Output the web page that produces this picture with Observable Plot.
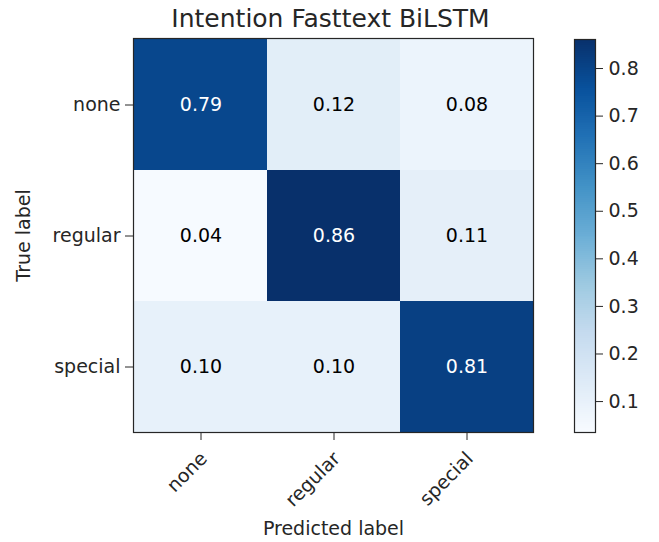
<!DOCTYPE html>
<html>
<head>
<meta charset="utf-8">
<script src="https://cdn.jsdelivr.net/npm/d3@7"></script>
<script src="https://cdn.jsdelivr.net/npm/@observablehq/plot@0.6"></script>
<style>
  html, body { margin: 0; padding: 0; background: #fff; }
  #wrap { position: relative; width: 659px; height: 542px; font-family: "DejaVu Sans", sans-serif; }
  #wrap svg { position: absolute; top: 0; }
</style>
</head>
<body>
<div id="wrap"></div>
<script>
// ---- data ----
const title = "Intention Fasttext BiLSTM";
const classes = ["none", "regular", "special"];          // predicted (x) and true (y) labels
const rowNone    = [0.79, 0.12, 0.08];
const rowRegular = [0.04, 0.86, 0.11];
const rowSpecial = [0.10, 0.10, 0.81];
const colorDomain = [0.035, 0.861];                      // colorbar extent (min, max of matrix)
const colorbarTicks = [0.1, 0.2, 0.3, 0.4, 0.5, 0.6, 0.7, 0.8];
const xLabel = "Predicted label";
const yLabel = "True label";

const rows = [rowNone, rowRegular, rowSpecial];
const cells = [];
rows.forEach((row, i) => row.forEach((v, j) => cells.push({truth: classes[i], pred: classes[j], value: v})));
const maxVal = d3.max(cells, d => d.value);
const thresh = maxVal / 2;

const blues = ["#f7fbff","#deebf7","#c6dbef","#9ecae1","#6baed6","#4292c6","#2171b5","#08519c","#08306b"];
const colorOpts = {type: "linear", domain: colorDomain, interpolate: d3.piecewise(d3.interpolateRgb, blues)};

const ink = "#262626";
const wrap = document.getElementById("wrap");

const main = Plot.plot({
  width: 659,
  height: 542,
  marginLeft: 133,
  marginRight: 126,
  marginTop: 38,
  marginBottom: 110,
  style: {fontFamily: "DejaVu Sans, sans-serif", color: ink, background: "transparent"},
  x: {domain: classes, padding: 0},
  y: {domain: classes, padding: 0},
  color: colorOpts,
  marks: [
    Plot.cell(cells, {x: "pred", y: "truth", fill: "value", inset: 0}),
    Plot.text(cells, {x: "pred", y: "truth", text: d => d.value.toFixed(2), fill: d => d.value > thresh ? "white" : "black", fontSize: 19}),
    Plot.frame({stroke: ink, strokeWidth: 1.2}),
    Plot.axisY({tickSize: 8, tickPadding: 5, fontSize: 19, label: yLabel, labelAnchor: "center", labelArrow: "none", labelOffset: 117, stroke: ink}),
    Plot.axisX({tickSize: 8, tickFormat: () => "", label: null, stroke: ink}),
    Plot.axisX({tickSize: 0, tickPadding: 12, fontSize: 19, tickRotate: -45, dx: 3, dy: 11, label: null}),
    Plot.axisX({ticks: [], tickSize: 0, label: xLabel, labelAnchor: "center", labelArrow: "none", labelOffset: 102, fontSize: 19}),
    Plot.text([title], {frameAnchor: "top", dx: -3, dy: -12, lineAnchor: "bottom", fontSize: 25, fill: ink})
  ]
});
main.style.left = "0px";
wrap.appendChild(main);

// colorbar
const steps = d3.range(200);
const span = colorDomain[1] - colorDomain[0];
const slices = steps.map(i => ({
  y1: colorDomain[0] + span * i / steps.length,
  y2: colorDomain[0] + span * (i + 1) / steps.length
}));
const bar = Plot.plot({
  width: 86,
  height: 542,
  marginLeft: 1,
  marginRight: 64,
  marginTop: 39,
  marginBottom: 110,
  style: {fontFamily: "DejaVu Sans, sans-serif", color: ink, background: "transparent"},
  x: {domain: [0, 1], axis: null},
  y: {domain: colorDomain},
  color: colorOpts,
  marks: [
    Plot.rect(slices, {x1: 0, x2: 1, y1: "y1", y2: "y2", fill: d => (d.y1 + d.y2) / 2, inset: 0, shapeRendering: "crispEdges"}),
    Plot.frame({stroke: ink, strokeWidth: 1.2}),
    Plot.axisY({anchor: "right", ticks: colorbarTicks, tickFormat: d3.format(".1f"), tickSize: 7, tickPadding: 6, fontSize: 19, label: null, stroke: ink})
  ]
});
bar.style.left = "573px";
wrap.appendChild(bar);
</script>
</body>
</html>
